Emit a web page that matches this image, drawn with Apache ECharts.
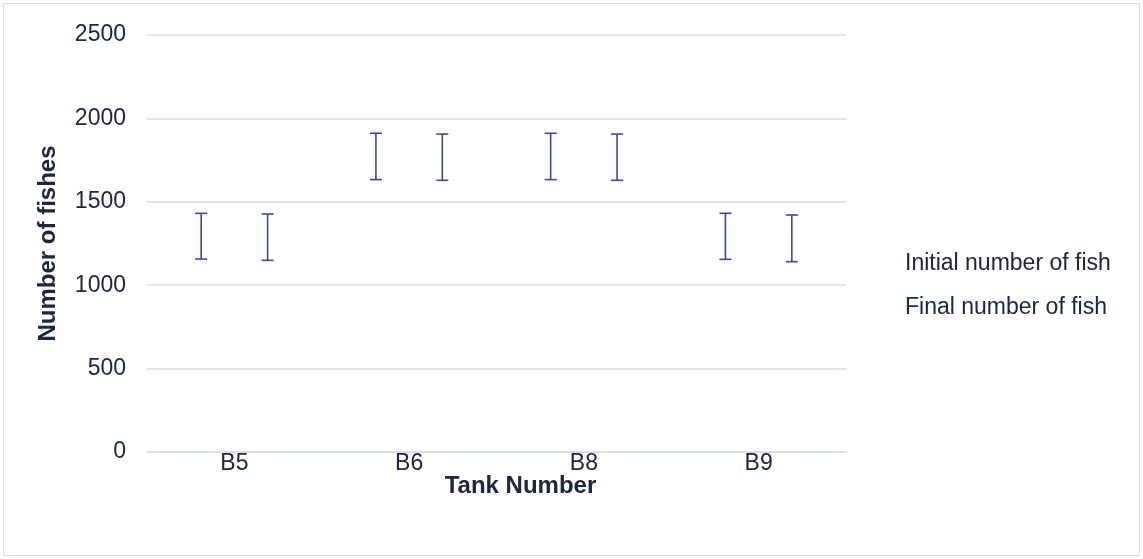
<!DOCTYPE html>
<html>
<head>
<meta charset="utf-8">
<script src="https://cdn.jsdelivr.net/npm/echarts@6/dist/echarts.min.js"></script>
<style>
html,body{margin:0;padding:0;background:#fff;}
#c{width:1143px;height:559px;}
</style>
</head>
<body>
<div id="c"></div>
<script>
var categories = ['B5', 'B6', 'B8', 'B9'];
var seriesNames = ['Initial number of fish', 'Final number of fish'];
var initialLow  = [1157, 1633, 1633, 1155];
var initialHigh = [1431, 1911, 1911, 1431];
var finalLow    = [1149, 1629, 1629, 1141];
var finalHigh   = [1427, 1906, 1906, 1421];
var yTicks = [0, 500, 1000, 1500, 2000, 2500];

var color = '#3f4a8c';
var textColor = '#20263f';
var font = 'Liberation Sans, Arial, sans-serif';

function makeErr(name, lows, highs, offsetFrac) {
  var data = categories.map(function (c, i) { return [i, lows[i], highs[i]]; });
  return {
    type: 'custom',
    name: name,
    data: data,
    encode: { x: 0, y: [1, 2] },
    itemStyle: { color: color },
    renderItem: function (params, api) {
      var idx = api.value(0);
      var lo = api.coord([idx, api.value(1)]);
      var hi = api.coord([idx, api.value(2)]);
      var band = api.size([1, 0])[0];
      var x = lo[0] + band * offsetFrac;
      var hw = 6;
      var st = { stroke: color, lineWidth: 1.6, fill: null };
      return {
        type: 'group',
        children: [
          { type: 'line', shape: { x1: x, y1: hi[1], x2: x, y2: lo[1] }, style: st },
          { type: 'line', shape: { x1: x - hw, y1: hi[1], x2: x + hw, y2: hi[1] }, style: st },
          { type: 'line', shape: { x1: x - hw, y1: lo[1], x2: x + hw, y2: lo[1] }, style: st }
        ]
      };
    }
  };
}

var chart = echarts.init(document.getElementById('c'));
chart.setOption({
  animation: false,
  backgroundColor: '#fff',
  graphic: [{
    type: 'rect',
    shape: { x: 3.5, y: 3.5, width: 1136, height: 552 },
    style: { fill: null, stroke: '#d9dcec', lineWidth: 1 },
    silent: true
  }],
  grid: { left: 147, right: 297, top: 35, bottom: 107, containLabel: false },
  legend: {
    orient: 'vertical',
    left: 895,
    top: 247,
    itemWidth: 0,
    itemHeight: 0,
    itemGap: 21,
    icon: 'rect',
    data: seriesNames,
    textStyle: { color: textColor, fontSize: 23, fontFamily: font },
    selectedMode: false
  },
  xAxis: {
    type: 'category',
    data: categories,
    name: 'Tank Number',
    nameLocation: 'middle',
    nameGap: 22,
    nameMoveOverlap: false,
    nameTextStyle: { color: textColor, fontSize: 24, fontWeight: 'bold', fontFamily: font, padding: [0, 0, 0, 48] },
    axisLine: { show: true, lineStyle: { color: '#d9dcec', width: 1.5 } },
    axisTick: { show: false },
    axisLabel: { color: textColor, fontSize: 23, margin: 0, fontFamily: font },
    splitLine: { show: false }
  },
  yAxis: {
    type: 'value',
    min: yTicks[0],
    max: yTicks[yTicks.length - 1],
    interval: 500,
    name: 'Number of fishes',
    nameLocation: 'middle',
    nameGap: 87,
    nameMoveOverlap: false,
    nameTextStyle: { color: textColor, fontSize: 24, fontWeight: 'bold', fontFamily: font },
    axisLine: { show: false },
    axisTick: { show: false },
    axisLabel: { color: textColor, fontSize: 23, margin: 21, fontFamily: font, formatter: function (v) { return String(v); } },
    splitLine: { show: true, lineStyle: { color: '#d9dcec', width: 1.5 } }
  },
  series: [
    makeErr(seriesNames[0], initialLow, initialHigh, -0.19),
    makeErr(seriesNames[1], finalLow, finalHigh, 0.19)
  ]
});
</script>
</body>
</html>
